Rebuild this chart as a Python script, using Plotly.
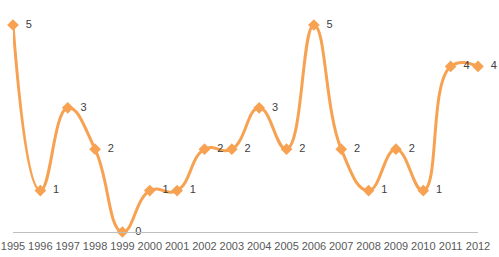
import plotly.graph_objects as go

years = [str(y) for y in range(1995, 2013)]
values = [5, 1, 3, 2, 0, 1, 1, 2, 2, 3, 2, 5, 2, 1, 2, 1, 4, 4]

xs = list(range(len(years)))

fig = go.Figure()
fig.add_trace(go.Scatter(
    x=xs, y=values,
    mode="lines+markers+text",
    line=dict(color="#F7A252", width=3, shape="spline", smoothing=1.3),
    marker=dict(symbol="diamond", size=9, color="#F7A252"),
    text=["  " + str(v) for v in values],
    textposition="middle right",
    textfont=dict(family="Liberation Sans, Arial", size=11, color="#404040"),
    cliponaxis=False,
    hoverinfo="skip",
))

fig.update_layout(
    width=499, height=257,
    margin=dict(l=13, r=21, t=25, b=25, autoexpand=False),
    paper_bgcolor="white", plot_bgcolor="white",
    showlegend=False,
    xaxis=dict(
        range=[0, len(years) - 1],
        tickmode="array", tickvals=xs, ticktext=years,
        showgrid=False, zeroline=False, automargin=False,
        showline=True, linecolor="#BFBFBF", linewidth=1,
        ticks="outside", ticklen=4, tickcolor="rgba(0,0,0,0)",
        tickfont=dict(family="Liberation Sans, Arial", size=11, color="#595959"),
    ),
    yaxis=dict(
        range=[0, 5], automargin=False,
        visible=False, showgrid=False, zeroline=False,
    ),
)

fig.write_html("out.html")
